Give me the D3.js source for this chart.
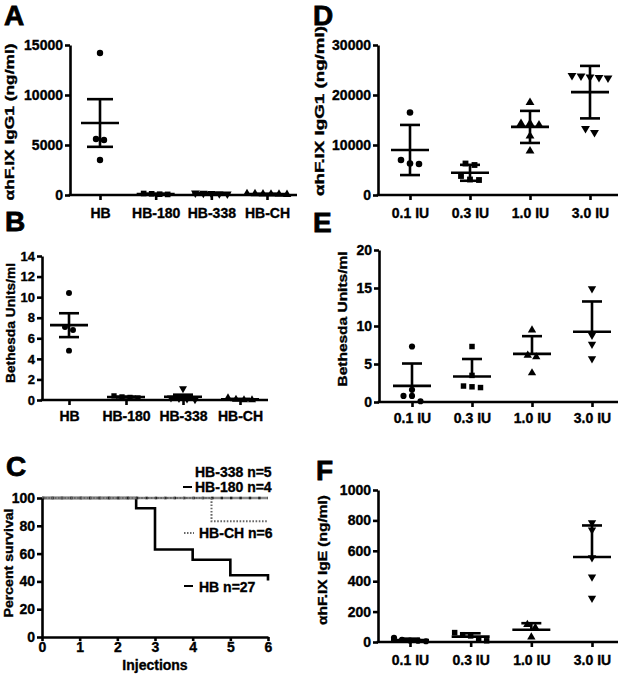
<!DOCTYPE html>
<html><head><meta charset="utf-8">
<script src="https://cdnjs.cloudflare.com/ajax/libs/d3/7.8.5/d3.min.js"></script>
<style>body{margin:0;background:#fff}svg{display:block}text{font-family:"Liberation Sans",Arial,sans-serif;font-weight:bold;fill:#000;stroke:#000;stroke-width:0.35px}</style>
</head><body><svg id="c" width="623" height="674"></svg>
<script>
// ---------- DATA ----------
const groupsAB = ["HB", "HB-180", "HB-338", "HB-CH"];
const doseLabels = ["0.1 IU", "0.3 IU", "1.0 IU", "3.0 IU"];

// Panel A: anti-hFIX IgG1 (ng/ml), mean ± SEM
const aHB = [14200, 5600, 5500, 3500];
const aHB180 = [150, 80, 120, 60];
const aHB338 = [150, 200, 100, 180, 120];
const aHBCH = [100, 60, 140, 80, 90, 120];
const aTicks = [0, 5000, 10000, 15000];

// Panel B: Bethesda Units/ml, mean ± SEM
const bHB = [10.4, 7.1, 6.8, 4.8];
const bHB180 = [0.3, 0.25, 0.4, 0.2];
const bHB338 = [1.1, 0.2, 0.1, 0.15, 0.05];
const bHBCH = [0.2, 0.0, 0.05, 0.0];
const bTicks = [0, 2, 4, 6, 8, 10, 12, 14];

// Panel C: percent survival
const survHB_t = [0, 2.5, 3, 4, 5, 6];
const survHB_v = [100, 92.6, 63.0, 55.6, 44.4, 40.7];
const survCH_t = [0, 4.5, 6];
const survCH_v = [100, 83.3, 83.3];
const surv338_t = [0, 6];
const surv338_v = [100, 100];
const cYTicks = [0, 20, 40, 60, 80, 100];
const cXTicks = [0, 1, 2, 3, 4, 5, 6];
const cLegend = ["HB-338 n=5", "HB-180 n=4", "HB-CH n=6", "HB n=27"];

// Panel D: anti-hFIX IgG1 by dose, mean ± SD
const d01 = [16500, 7000, 6200, 6300];
const d03 = [6300, 6000, 3800, 3000, 3100];
const d10 = [18500, 14300, 14000, 14300, 11800, 8800];
const d30 = [23800, 23500, 23400, 23600, 23900, 12500, 13300];
const dTicks = [0, 10000, 20000, 30000];

// Panel E: Bethesda Units/ml by dose, mean + SD
const e01 = [7.3, 1.6, 0.8, 0.8, 0.1];
const e03 = [7.3, 3.5, 2.1, 1.9, 2.0];
const e10 = [9.45, 6.15, 5.93, 3.82];
const e30 = [14.9, 8.8, 7.6, 5.7];
const eTicks = [0, 5, 10, 15, 20];

// Panel F: anti-hFIX IgE by dose, mean + SD
const f01 = [28, 10, 5, 8, 14];
const f03 = [62, 48, 40, 18, 8];
const f10 = [115, 95, 33];
const f30 = [785, 737, 555, 428, 289];
const fTicks = [0, 200, 400, 600, 800, 1000];

// ---------- DRAW ----------
const svg = d3.select("#c");
const SW = 2.6;

function symbolPath(kind, size) {
  if (kind === "circle") return d3.symbol(d3.symbolCircle, size)();
  if (kind === "square") return d3.symbol(d3.symbolSquare, size)();
  return d3.symbol(d3.symbolTriangle, size)();
}

function yAxis(g, y, ticks, x0, fs) {
  const ax = d3.axisLeft(y).tickValues(ticks).tickFormat(d3.format("d")).tickSize(5).tickPadding(2).tickSizeOuter(0);
  const a = g.append("g").attr("transform", `translate(${x0},0)`).call(ax);
  a.select(".domain").attr("stroke", "#000").attr("stroke-width", SW);
  a.selectAll(".tick line").attr("stroke", "#000").attr("stroke-width", SW);
  a.selectAll(".tick text").attr("font-size", fs || 14).attr("font-family", null).attr("fill", "#000");
  return a;
}
function xCatAxis(g, x, yb, x0, x1, dy, fs) {
  const ax = d3.axisBottom(x).tickSize(5).tickPadding(dy).tickSizeOuter(0);
  const a = g.append("g").attr("transform", `translate(0,${yb})`).call(ax);
  a.select(".domain").remove();
  a.append("line").attr("x1", x0 - SW / 2).attr("x2", x1).attr("stroke", "#000").attr("stroke-width", SW);
  a.selectAll(".tick line").attr("stroke", "#000").attr("stroke-width", SW);
  a.selectAll(".tick text").attr("font-size", fs || 14).attr("font-family", null).attr("fill", "#000");
}
function yTitle(text, cx, cy, len, fs) {
  svg.append("text").attr("transform", `translate(${cx},${cy}) rotate(-90)`)
    .attr("text-anchor", "middle").attr("dominant-baseline", "central")
    .attr("font-size", fs || 13).attr("textLength", len).attr("lengthAdjust", "spacingAndGlyphs")
    .text(text);
}
function letter(t, x, y) {
  svg.append("text").attr("x", x).attr("y", y).attr("font-size", 28).style("stroke-width", "0.8px").text(t);
}
function mean(a) { return d3.mean(a); }
function sd(a) { return d3.deviation(a); }

function scatterPanel(opt) {
  const g = svg.append("g");
  const x = d3.scalePoint().domain(opt.cats).range(opt.xr);
  const y = d3.scaleLinear().domain(opt.dom).range([opt.yb, opt.yt]);
  opt.series.forEach((vals, i) => {
    const cx = x(opt.cats[i]);
    const m = mean(vals);
    const err = opt.err === "sem" ? sd(vals) / Math.sqrt(vals.length) : sd(vals);
    const hi = m + err, lo = Math.max(opt.dom[0], m - err);
    const sg = g.append("g").attr("stroke", "#000").attr("stroke-width", SW).attr("fill", "none");
    sg.append("line").attr("x1", cx - opt.mw).attr("x2", cx + opt.mw).attr("y1", y(m)).attr("y2", y(m));
    const ylo = opt.upperOnly ? y(m) : y(lo);
    sg.append("line").attr("x1", cx).attr("x2", cx).attr("y1", y(hi)).attr("y2", ylo);
    sg.append("line").attr("x1", cx - opt.cw).attr("x2", cx + opt.cw).attr("y1", y(hi)).attr("y2", y(hi));
    if (!opt.upperOnly && m - err > opt.dom[0])
      sg.append("line").attr("x1", cx - opt.cw).attr("x2", cx + opt.cw).attr("y1", y(lo)).attr("y2", y(lo));
    // spread points that sit at nearly the same height
    const pts = vals.map(v => ({ v, py: y(v) })).sort((a, b) => a.py - b.py);
    const clusters = [];
    pts.forEach(p => {
      const last = clusters[clusters.length - 1];
      if (last && p.py - last[last.length - 1].py < opt.th) last.push(p); else clusters.push([p]);
    });
    const kind = opt.shapes[i];
    clusters.forEach(cl => {
      cl.forEach((p, k) => {
        const px = cx + (k - (cl.length - 1) / 2) * opt.sp;
        g.append("path").attr("d", symbolPath(kind, opt.ms))
          .attr("transform", `translate(${px},${p.py})` + (kind === "tdown" ? " rotate(180)" : ""))
          .attr("fill", "#000");
      });
    });
  });
  yAxis(g, y, opt.ticks, opt.x0, opt.yfs);
  xCatAxis(g, x, opt.yb, opt.x0, opt.x1, opt.xpad, 14);
  return g;
}

scatterPanel({ cats: groupsAB, xr: [100, 267], dom: [0, 15000], yt: 45, yb: 195, x0: 70, x1: 297,
  series: [aHB, aHB180, aHB338, aHBCH], shapes: ["circle", "square", "tdown", "tup"],
  err: "sem", ticks: aTicks, mw: 19, cw: 13, th: 5, sp: 8, ms: 32, xpad: 8 });
scatterPanel({ cats: groupsAB, xr: [69, 240], dom: [0, 14], yt: 256, yb: 400, x0: 42, x1: 268,
  series: [bHB, bHB180, bHB338, bHBCH], shapes: ["circle", "square", "tdown", "tup"],
  err: "sem", ticks: bTicks, mw: 19, cw: 10, th: 5, sp: 8, ms: 28, xpad: 6, yfs: 13 });
scatterPanel({ cats: doseLabels, xr: [410, 590], dom: [0, 30000], yt: 45, yb: 195, x0: 378, x1: 618,
  series: [d01, d03, d10, d30], shapes: ["circle", "square", "tup", "tdown"],
  err: "sd", ticks: dTicks, mw: 19, cw: 10, th: 6, sp: 9, ms: 34, xpad: 8 });
scatterPanel({ cats: doseLabels, xr: [412, 592], dom: [0, 20], yt: 250, yb: 402, x0: 379, x1: 618,
  series: [e01, e03, e10, e30], shapes: ["circle", "square", "tup", "tdown"],
  err: "sd", upperOnly: true, ticks: eTicks, mw: 19, cw: 10, th: 6, sp: 8.5, ms: 30, xpad: 6 });
scatterPanel({ cats: doseLabels, xr: [410, 592], dom: [0, 1000], yt: 490, yb: 642, x0: 378, x1: 618,
  series: [f01, f03, f10, f30], shapes: ["circle", "square", "tup", "tdown"],
  err: "sd", upperOnly: true, ticks: fTicks, mw: 19, cw: 10, th: 5, sp: 8, ms: 30, xpad: 8 });

// Panel C (survival)
(function () {
  const g = svg.append("g");
  const x = d3.scaleLinear().domain([0, 6]).range([42, 268]);
  const y = d3.scaleLinear().domain([0, 100]).range([637, 498]);
  const line = d3.line().curve(d3.curveStepAfter).x(d => x(d[0])).y(d => y(d[1]));
  g.append("path").attr("d", line(d3.zip(survHB_t, survHB_v))).attr("fill", "none")
    .attr("stroke", "#000").attr("stroke-width", SW);
  g.append("path").attr("d", line(d3.zip(surv338_t, surv338_v))).attr("fill", "none")
    .attr("stroke", "#8a8a8a").attr("stroke-width", 2.4);
  g.append("path").attr("d", line(d3.zip(surv338_t, surv338_v))).attr("fill", "none")
    .attr("stroke", "#222").attr("stroke-width", 2.6).attr("stroke-dasharray", "2.4,7");
  g.append("path").attr("d", line(d3.zip(survCH_t, survCH_v))).attr("fill", "none")
    .attr("stroke", "#666").attr("stroke-width", 2).attr("stroke-dasharray", "1.6,1.6");
  const ay = d3.axisLeft(y).tickValues(cYTicks).tickSize(5).tickPadding(2).tickSizeOuter(0);
  const a1 = g.append("g").attr("transform", "translate(42,0)").call(ay);
  a1.select(".domain").attr("stroke", "#000").attr("stroke-width", SW);
  a1.selectAll(".tick line").attr("stroke", "#000").attr("stroke-width", SW);
  a1.selectAll(".tick text").attr("font-size", 14).attr("font-family", null);
  const ax = d3.axisBottom(x).tickValues(cXTicks).tickFormat(d3.format("d")).tickSize(4).tickPadding(1).tickSizeOuter(0);
  const a2 = g.append("g").attr("transform", "translate(0,637)").call(ax);
  a2.select(".domain").attr("stroke", "#000").attr("stroke-width", SW);
  a2.selectAll(".tick line").attr("stroke", "#000").attr("stroke-width", SW);
  a2.selectAll(".tick text").attr("font-size", 14).attr("font-family", null);
  svg.append("text").attr("x", 155).attr("y", 670).attr("text-anchor", "middle").attr("font-size", 14).text("Injections");
  const lx = [195, 195, 199, 199];
  const ly = [477, 492, 538, 592];
  cLegend.forEach((t, i) => {
    svg.append("text").attr("x", lx[i]).attr("y", ly[i]).attr("font-size", 14).text(t);
  });
  svg.append("line").attr("x1", 183).attr("x2", 192).attr("y1", 487).attr("y2", 487).attr("stroke", "#000").attr("stroke-width", 2);
  svg.append("line").attr("x1", 184).attr("x2", 194).attr("y1", 533).attr("y2", 533).attr("stroke", "#666").attr("stroke-width", 2).attr("stroke-dasharray", "1.5,1.5");
  svg.append("line").attr("x1", 184).attr("x2", 193).attr("y1", 586).attr("y2", 586).attr("stroke", "#000").attr("stroke-width", 2);
})();

yTitle("αhF.IX IgG1 (ng/ml)", 9, 122, 157);
yTitle("Bethesda Units/ml", 10, 323, 120);
yTitle("Percent survival", 8, 563, 109);
yTitle("αhF.IX IgG1 (ng/ml)", 319, 111, 170);
yTitle("Bethesda Units/ml", 342, 319, 135);
yTitle("αhF.IX IgE (ng/ml)", 322, 560, 130);
letter("A", 4, 25);
letter("B", 5, 231);
letter("C", 6, 476);
letter("D", 313, 25);
letter("E", 313, 232);
letter("F", 316, 480);
</script></body></html>
